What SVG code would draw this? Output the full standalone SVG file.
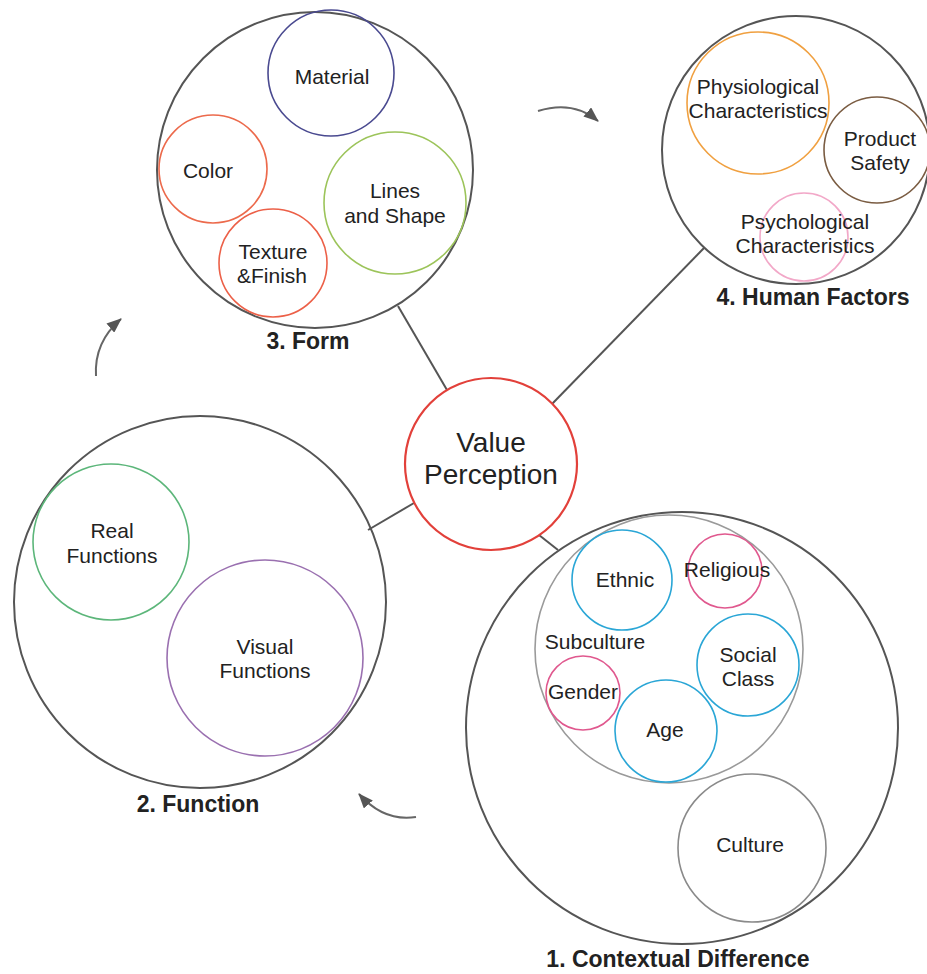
<svg xmlns="http://www.w3.org/2000/svg" width="927" height="974" viewBox="0 0 927 974">
<defs>
<marker id="ah" markerUnits="userSpaceOnUse" markerWidth="16" markerHeight="12" refX="14" refY="6" orient="auto">
<path d="M0,0 L15,6 L0,12 Z" fill="#555"/>
</marker>
<style>
.big{fill:none;stroke:#555;stroke-width:2}
.sub{fill:none;stroke-width:1.6}
.lbl{font-family:"Liberation Sans",Arial,sans-serif;font-size:21px;fill:#222;text-anchor:middle}
.ttl{font-family:"Liberation Sans",Arial,sans-serif;font-size:23px;font-weight:bold;fill:#222;text-anchor:middle}
.con{stroke:#555;stroke-width:2;fill:none}
.arr{stroke:#666;stroke-width:2;fill:none;marker-end:url(#ah)}
</style>
</defs>
<rect width="927" height="974" fill="#fff"/>
<g id="connectors">
<line class="con" x1="398" y1="306" x2="447" y2="390"/>
<line class="con" x1="552" y1="404" x2="704" y2="248"/>
<line class="con" x1="414" y1="503" x2="368" y2="530"/>
<line class="con" x1="539" y1="535" x2="558" y2="550"/>
<path class="arr" d="M538,111 Q573,100 598,121"/>
<path class="arr" d="M96,376 Q94,342 121,319"/>
<path class="arr" d="M416,817 Q384,822 359,794"/>
</g>
<g id="value-perception">
<circle cx="491" cy="464" r="86" fill="none" stroke="#e2403a" stroke-width="2.2"/>
<text class="lbl" style="font-size:28px" x="491" y="452">Value</text>
<text class="lbl" style="font-size:28px" x="491" y="484">Perception</text>
</g>
<g id="form">
<circle class="big" cx="315" cy="170" r="158"/>
<text class="ttl" x="308" y="349">3. Form</text>
<g id="material"><circle class="sub" stroke="#4a4a90" cx="331" cy="73" r="63"/><text class="lbl" x="332" y="84">Material</text></g>
<g id="color"><circle class="sub" stroke="#ec6a4c" cx="213" cy="169" r="54"/><text class="lbl" x="208" y="178">Color</text></g>
<g id="lines-shape"><circle class="sub" stroke="#9cc45a" cx="395" cy="203" r="71"/><text class="lbl" x="395" y="198">Lines</text><text class="lbl" x="395" y="223">and Shape</text></g>
<g id="texture"><circle class="sub" stroke="#ec6048" cx="273" cy="263" r="54"/><text class="lbl" x="273" y="259">Texture</text><text class="lbl" x="272" y="283">&amp;Finish</text></g>
</g>
<g id="human-factors">
<circle class="big" cx="796" cy="150" r="134"/>
<text class="ttl" x="813" y="305">4. Human Factors</text>
<g id="physiological"><circle class="sub" stroke="#f0a040" cx="758" cy="103" r="71"/><text class="lbl" x="758" y="94">Physiological</text><text class="lbl" x="758" y="118">Characteristics</text></g>
<g id="product-safety"><circle class="sub" stroke="#7a5c42" cx="877" cy="150" r="53"/><text class="lbl" x="880" y="146">Product</text><text class="lbl" x="880" y="170">Safety</text></g>
<g id="psychological"><circle class="sub" stroke="#f2a8c8" cx="804" cy="237" r="44"/><text class="lbl" x="805" y="229">Psychological</text><text class="lbl" x="805" y="253">Characteristics</text></g>
</g>
<g id="function">
<circle class="big" cx="200" cy="602" r="186"/>
<text class="ttl" x="198" y="812">2. Function</text>
<g id="real-functions"><circle class="sub" stroke="#5cb67a" cx="111" cy="542" r="78"/><text class="lbl" x="112" y="538">Real</text><text class="lbl" x="112" y="563">Functions</text></g>
<g id="visual-functions"><circle class="sub" stroke="#9a70b0" cx="265" cy="658" r="98"/><text class="lbl" x="265" y="654">Visual</text><text class="lbl" x="265" y="678">Functions</text></g>
</g>
<g id="contextual">
<circle class="big" cx="682" cy="728" r="216"/>
<text class="ttl" x="678" y="967">1. Contextual Difference</text>
<g id="subculture"><circle class="sub" stroke="#9a9a9a" cx="669" cy="649" r="134"/><text class="lbl" x="595" y="649">Subculture</text></g>
<g id="ethnic"><circle class="sub" stroke="#2aa6d6" cx="622" cy="580" r="50"/><text class="lbl" x="625" y="587">Ethnic</text></g>
<g id="religious"><circle class="sub" stroke="#e0588e" cx="725" cy="571" r="37"/><text class="lbl" x="727" y="577">Religious</text></g>
<g id="social-class"><circle class="sub" stroke="#2aa6d6" cx="748" cy="665" r="51"/><text class="lbl" x="748" y="662">Social</text><text class="lbl" x="748" y="686">Class</text></g>
<g id="gender"><circle class="sub" stroke="#e0588e" cx="583" cy="693" r="37"/><text class="lbl" x="583" y="699">Gender</text></g>
<g id="age"><circle class="sub" stroke="#2aa6d6" cx="666" cy="731" r="51"/><text class="lbl" x="665" y="737">Age</text></g>
<g id="culture"><circle class="sub" stroke="#8a8a8a" cx="752" cy="848" r="74"/><text class="lbl" x="750" y="852">Culture</text></g>
</g>
</svg>
